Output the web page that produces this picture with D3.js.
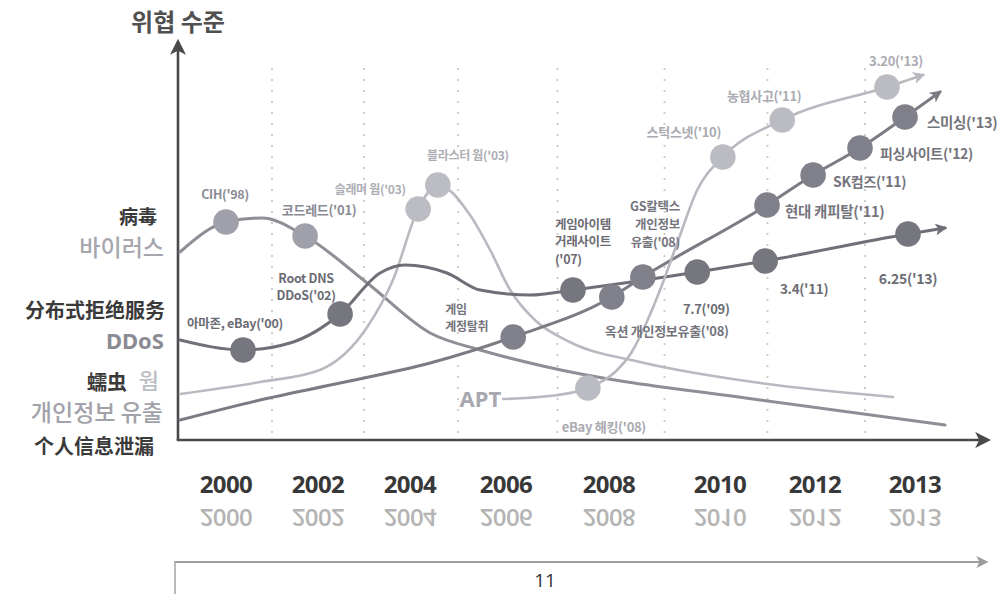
<!DOCTYPE html>
<html>
<head>
<meta charset="utf-8">
<script src="https://cdn.jsdelivr.net/npm/d3@7"></script>
<style>
  html, body { margin: 0; padding: 0; background: #fff; }
  svg { display: block; font-family: "Noto Sans CJK KR", "Noto Sans", sans-serif; }
</style>
</head>
<body>
<svg id="chart" width="1000" height="594"></svg>
<script>
// ---------- data ----------
const years = [2000, 2002, 2004, 2006, 2008, 2010, 2012, 2013];
const yearLabels = ["2000", "2002", "2004", "2006", "2008", "2010", "2012", "2013"];

// threat-level curves: [timeline year, level 0–100]
const virusCurve = [[1999.0, 47], [2000, 54.5], [2000.78, 55.5], [2001.72, 51], [2003.07, 39.25],
  [2004.42, 26.75], [2005.46, 22.5], [2006.8, 18.25], [2010.84, 10], [2013.3, 3.75]];
const wormCurve = [[1999.0, 11.5], [2000.74, 14.5], [2002.04, 17.5], [2003.07, 28.25], [2003.63, 40],
  [2004.17, 57.75], [2004.58, 63.75], [2005.25, 56.25], [2005.67, 47.5], [2006.08, 37.5],
  [2006.56, 30], [2007.24, 24.5], [2008.56, 19.5], [2010.84, 14.25], [2012.78, 10.75]];
const ddosCurve = [[1999.0, 25], [2000.37, 22.5], [2001.39, 24.25], [2002.48, 31.5], [2003.35, 41.75],
  [2003.89, 43.75], [2004.77, 41.75], [2005.46, 37.5], [2006.47, 36.25], [2007.3, 37.5],
  [2009.59, 42], [2010.95, 44.75], [2012.93, 51.5], [2013.3, 53]];
const leakCurve = [[1999.0, 5], [2000.74, 10], [2002.48, 14.25], [2004.42, 19.25], [2006.14, 25.75],
  [2008.05, 35.75], [2008.61, 40.75], [2010.99, 58.75], [2011.96, 66.25], [2012.45, 73],
  [2012.9, 80.75], [2013.25, 87]];
const aptCurve = [[2005.94, 10.25], [2006.85, 11], [2007.59, 13], [2008.11, 17], [2008.41, 22],
  [2008.68, 29.5], [2008.92, 37.5], [2009.23, 49.25], [2009.59, 62.5], [2010.06, 70.75],
  [2011.31, 80], [2012.72, 88.25], [2013.08, 91.25]];

// incidents marked on each curve
const virusEvents = [
  { name: "CIH('98)", year: 2000, level: 54.5 },
  { name: "코드레드('01)", year: 2001.72, level: 51 }
];
const wormEvents = [
  { name: "슬래머 웜('03)", year: 2004.17, level: 57.75 },
  { name: "블라스터 웜('03)", year: 2004.58, level: 63.75 }
];
const ddosEvents = [
  { name: "아마존, eBay('00)", year: 2000.37, level: 22.5 },
  { name: "Root DNS\nDDoS('02)", year: 2002.48, level: 31.5 },
  { name: "게임아이템\n거래사이트\n('07)", year: 2007.3, level: 37.5 },
  { name: "7.7('09)", year: 2009.59, level: 42 },
  { name: "3.4('11)", year: 2010.95, level: 44.75 },
  { name: "6.25('13)", year: 2012.93, level: 51.5 }
];
const leakEvents = [
  { name: "게임\n계정탈취", year: 2006.14, level: 25.75 },
  { name: "옥션 개인정보유출('08)", year: 2008.05, level: 35.75 },
  { name: "GS칼텍스\n개인정보\n유출('08)", year: 2008.61, level: 40.75 },
  { name: "현대 캐피탈('11)", year: 2010.99, level: 58.75 },
  { name: "SK컴즈('11)", year: 2011.96, level: 66.25 },
  { name: "피싱사이트('12)", year: 2012.45, level: 73 },
  { name: "스미싱('13)", year: 2012.9, level: 80.75 }
];
const aptEvents = [
  { name: "eBay 해킹('08)", year: 2007.59, level: 13 },
  { name: "스턱스넷('10)", year: 2010.06, level: 70.75 },
  { name: "농협사고('11)", year: 2011.31, level: 80 },
  { name: "3.20('13)", year: 2012.72, level: 88.25 }
];

// ---------- layout ----------
const yearStops = [226, 318, 410, 506, 609, 720, 815, 915];   // timeline is not evenly spaced
const plot = { left: 178, right: 988, top: 42, bottom: 440 };

const x = d3.scaleLinear().domain(years).range(yearStops);
const y = d3.scaleLinear().domain([0, 100]).range([plot.bottom, 40]);

const seriesStyle = {
  virus: { line: "#8e8e97", dot: "#a0a0aa", text: "#8a8a93", width: 3 },
  worm:  { line: "#b9b9c1", dot: "#bcbcc4", text: "#adadb5", width: 2.6 },
  ddos:  { line: "#6f6f78", dot: "#76767f", text: "#6c6c74", width: 3 },
  leak:  { line: "#7b7b84", dot: "#80808a", text: "#74747c", width: 3 },
  apt:   { line: "#b8b8c0", dot: "#bbbbc3", text: "#aaaab2", width: 2.6 }
};

const series = [
  { key: "virus", curve: virusCurve, events: virusEvents, arrow: false },
  { key: "worm",  curve: wormCurve,  events: wormEvents,  arrow: false },
  { key: "leak",  curve: leakCurve,  events: leakEvents,  arrow: true },
  { key: "ddos",  curve: ddosCurve,  events: ddosEvents,  arrow: true },
  { key: "apt",   curve: aptCurve,   events: aptEvents,   arrow: true }
];

// label offsets from each dot centre, and type size
const labelPlacement = {
  "CIH('98)":               { dx: -1,  dy: -29, anchor: "middle", fs: 12.5 },
  "코드레드('01)":           { dx: 14,  dy: -27, anchor: "middle", fs: 13 },
  "슬래머 웜('03)":          { dx: -48, dy: -21, anchor: "middle", fs: 12 },
  "블라스터 웜('03)":        { dx: 30,  dy: -31, anchor: "middle", fs: 12 },
  "아마존, eBay('00)":       { dx: -8,  dy: -28, anchor: "middle", fs: 12.5 },
  "Root DNS\nDDoS('02)":     { dx: -34, dy: -37, anchor: "middle", lh: 17.5, fs: 12.5 },
  "게임아이템\n거래사이트\n('07)": { dx: -18, dy: -67, anchor: "start", lh: 17.5, fs: 12.5 },
  "7.7('09)":               { dx: 9,   dy: 36,  anchor: "middle", fs: 13 },
  "3.4('11)":               { dx: 39,  dy: 27,  anchor: "middle", fs: 13.5 },
  "6.25('13)":              { dx: 0,   dy: 44,  anchor: "middle", fs: 14 },
  "게임\n계정탈취":           { dx: -68, dy: -29, anchor: "start", lh: 17.5, fs: 12 },
  "옥션 개인정보유출('08)":   { dx: 55,  dy: 33,  anchor: "middle", fs: 13 },
  "GS칼텍스\n개인정보\n유출('08)": { dx: 37, dy: -72, anchor: "end", lh: 18, fs: 12.5 },
  "현대 캐피탈('11)":        { dx: 18,  dy: 5,   anchor: "start", fs: 14.5 },
  "SK컴즈('11)":            { dx: 20,  dy: 6,   anchor: "start", fs: 14 },
  "피싱사이트('12)":         { dx: 20,  dy: 5,   anchor: "start", fs: 14 },
  "스미싱('13)":             { dx: 22,  dy: 4,   anchor: "start", fs: 14.5 },
  "eBay 해킹('08)":          { dx: 16,  dy: 38,  anchor: "middle", fs: 13 },
  "스턱스넷('10)":           { dx: -39, dy: -26, anchor: "middle", fs: 13 },
  "농협사고('11)":           { dx: -18, dy: -25, anchor: "middle", fs: 13 },
  "3.20('13)":              { dx: 9,   dy: -27, anchor: "middle", fs: 13 }
};

const svg = d3.select("#chart");
const defs = svg.append("defs");

function marker(id, color, size) {
  defs.append("marker")
    .attr("id", id)
    .attr("viewBox", "0 0 10 10")
    .attr("refX", 8).attr("refY", 5)
    .attr("markerUnits", "userSpaceOnUse")
    .attr("markerWidth", size).attr("markerHeight", size)
    .attr("orient", "auto")
    .append("path")
    .attr("d", "M0,0L10,5L0,10L2.5,5Z")
    .attr("fill", color);
}
marker("axis-arrow", "#4a4a4a", 16);
marker("base-arrow", "#9c9c9c", 12);
series.forEach(s => marker("arrow-" + s.key, seriesStyle[s.key].line, 12));

// ---------- title ----------
svg.append("text")
  .attr("x", plot.left).attr("y", 20)
  .attr("text-anchor", "middle").attr("dominant-baseline", "central")
  .attr("font-size", 24).attr("font-weight", 700).attr("fill", "#505050")
  .text("위협 수준");

// ---------- dotted year separators ----------
const separators = d3.pairs(years).map(([a, b]) => (a + b) / 2);
svg.append("g").selectAll("line").data(separators).join("line")
  .attr("x1", d => x(d)).attr("x2", d => x(d))
  .attr("y1", 68).attr("y2", plot.bottom)
  .attr("stroke", "#c8c8c8").attr("stroke-width", 1.8)
  .attr("stroke-dasharray", "2,9");

// ---------- axes ----------
svg.append("line")
  .attr("x1", plot.left).attr("y1", plot.bottom)
  .attr("x2", plot.left).attr("y2", plot.top)
  .attr("stroke", "#4a4a4a").attr("stroke-width", 2.6)
  .attr("marker-end", "url(#axis-arrow)");
svg.append("line")
  .attr("x1", plot.left - 1.3).attr("y1", plot.bottom)
  .attr("x2", plot.right).attr("y2", plot.bottom)
  .attr("stroke", "#4a4a4a").attr("stroke-width", 2.6)
  .attr("marker-end", "url(#axis-arrow)");

// year labels, with their faint mirrored show-through underneath
const yearG = svg.append("g").attr("font-family", "'Open Sans', sans-serif")
  .attr("font-weight", 700).attr("font-size", 24).attr("letter-spacing", -0.6);
yearG.selectAll("text.year").data(yearLabels).join("text")
  .attr("class", "year")
  .attr("x", (d, i) => x(years[i])).attr("y", 483)
  .attr("text-anchor", "middle").attr("dominant-baseline", "central")
  .attr("fill", "#383838")
  .text(d => d);
yearG.selectAll("text.ghost").data(yearLabels).join("text")
  .attr("class", "ghost")
  .attr("transform", (d, i) => `translate(${x(years[i])},518) scale(1,-1)`)
  .attr("text-anchor", "middle").attr("dominant-baseline", "central")
  .attr("font-weight", 600)
  .attr("fill", "#b4b4b4")
  .text(d => d);

// ---------- left category labels ----------
const sideLabels = [
  { text: "病毒", y: 215, size: 19, weight: 700, color: "#3a3a3a", right: 157, font: "'Noto Sans CJK SC'" },
  { text: "바이러스", y: 246, size: 23, weight: 500, color: "#a6a6ae", right: 164 },
  { text: "分布式拒绝服务", y: 309, size: 20, weight: 700, color: "#3a3a3a", right: 165, font: "'Noto Sans CJK SC'" },
  { text: "DDoS", y: 340, size: 22, weight: 700, color: "#8a8a93", right: 164, font: "'Noto Sans'" },
  { text: "蠕虫", y: 381, size: 20, weight: 700, color: "#3a3a3a", right: 127, font: "'Noto Sans CJK SC'" },
  { text: "웜", y: 379, size: 22, weight: 500, color: "#bdbdc5", right: 159 },
  { text: "개인정보 유출", y: 411, size: 23, weight: 500, color: "#a2a2aa", right: 163 },
  { text: "个人信息泄漏", y: 445, size: 20, weight: 700, color: "#3a3a3a", right: 154, font: "'Noto Sans CJK SC'" }
];
svg.append("g").selectAll("text").data(sideLabels).join("text")
  .attr("x", d => d.right).attr("y", d => d.y)
  .attr("text-anchor", "end").attr("dominant-baseline", "central")
  .attr("font-size", d => d.size).attr("font-weight", d => d.weight)
  .attr("font-family", d => d.font ? d.font + ", 'Noto Sans CJK KR', sans-serif" : null)
  .attr("fill", d => d.color)
  .text(d => d.text);

// ---------- curves ----------
const line = d3.line()
  .x(d => x(d[0])).y(d => y(d[1]))
  .curve(d3.curveMonotoneX);

const curveG = svg.append("g").attr("fill", "none").attr("stroke-linecap", "round");
series.forEach(s => {
  curveG.append("path")
    .attr("d", line(s.curve))
    .attr("stroke", seriesStyle[s.key].line)
    .attr("stroke-width", seriesStyle[s.key].width)
    .attr("marker-end", s.arrow ? `url(#arrow-${s.key})` : null);
});

// APT label at the start of its curve
svg.append("text")
  .attr("x", x(aptCurve[0][0]) - 2).attr("y", y(aptCurve[0][1]) - 1)
  .attr("text-anchor", "end").attr("dominant-baseline", "central")
  .attr("font-family", "'Noto Sans', sans-serif")
  .attr("font-size", 22).attr("font-weight", 700).attr("fill", "#a8a8b0")
  .text("APT");

// ---------- incident dots ----------
const dotG = svg.append("g");
series.forEach(s => {
  dotG.selectAll(null).data(s.events).join("circle")
    .attr("cx", d => x(d.year)).attr("cy", d => y(d.level))
    .attr("r", 12.8)
    .attr("fill", seriesStyle[s.key].dot);
});

// ---------- incident labels ----------
const labelG = svg.append("g").attr("font-weight", 700).attr("letter-spacing", -0.3);
series.forEach(s => {
  s.events.forEach(ev => {
    const p = labelPlacement[ev.name];
    const lines = ev.name.split("\n");
    const t = labelG.append("text")
      .attr("text-anchor", p.anchor)
      .attr("font-size", p.fs)
      .attr("fill", seriesStyle[s.key].text);
    lines.forEach((ln, i) => {
      t.append("tspan")
        .attr("x", x(ev.year) + p.dx)
        .attr("y", y(ev.level) + p.dy + i * (p.lh || 15))
        .attr("dominant-baseline", "central")
        .text(ln);
    });
  });
});

// ---------- lower timeline bar ----------
svg.append("line")
  .attr("x1", 175).attr("y1", 562).attr("x2", 986).attr("y2", 562)
  .attr("stroke", "#9c9c9c").attr("stroke-width", 2)
  .attr("marker-end", "url(#base-arrow)");
svg.append("line")
  .attr("x1", 175).attr("y1", 561).attr("x2", 175).attr("y2", 594)
  .attr("stroke", "#a8a8a8").attr("stroke-width", 1.6);
svg.append("text")
  .attr("x", 545).attr("y", 580)
  .attr("text-anchor", "middle").attr("dominant-baseline", "central")
  .attr("font-family", "'Open Sans', sans-serif")
  .attr("font-size", 19).attr("fill", "#333")
  .text("11");
</script>
</body>
</html>
